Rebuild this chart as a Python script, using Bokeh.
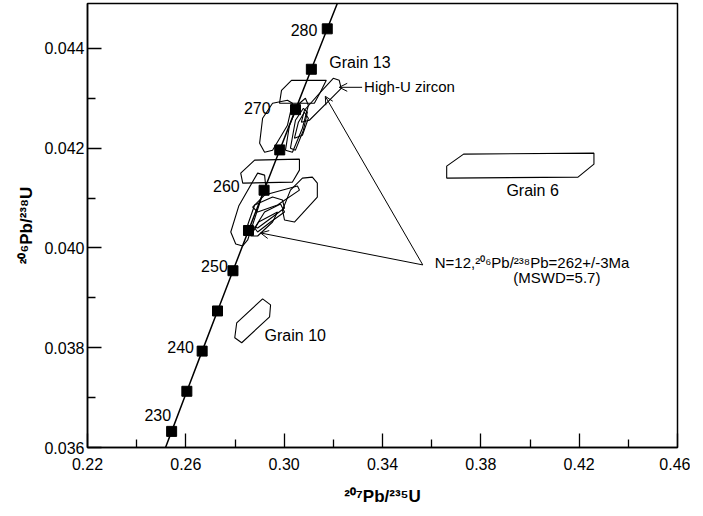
from bokeh.plotting import figure
from bokeh.models import Range1d, Label, Arrow, OpenHead, FixedTicker, PrintfTickFormatter
from bokeh.embed import file_html
from bokeh.resources import INLINE

# Concordia (age in Ma, 207Pb/235U, 206Pb/238U)
curve_age = [225, 230, 235, 240, 245, 250, 255, 260, 265, 270, 275, 280, 285]
curve_x = [0.248061, 0.254223, 0.260414, 0.266635, 0.272887, 0.279171, 0.285486,
           0.291831, 0.298209, 0.304618, 0.311058, 0.317531, 0.324031]
curve_y = [0.035519, 0.036323, 0.037127, 0.037932, 0.038737, 0.039543, 0.040350,
           0.041157, 0.041965, 0.042773, 0.043582, 0.044392, 0.045202]
marker_x = curve_x[1:12]
marker_y = curve_y[1:12]
label_ages = ["230", "240", "250", "260", "270", "280"]

# Error polygons of analysed grains
grain_xs = [
    [0.29811, 0.29892, 0.30297, 0.31713, 0.31471, 0.31228],
    [0.30702, 0.30823, 0.31471, 0.31997, 0.32240, 0.32320, 0.31754, 0.31025],
    [0.29002, 0.29123, 0.29528, 0.30135, 0.30337, 0.30135, 0.29528, 0.29204],
    [0.30054, 0.30216, 0.30580, 0.30864, 0.30985, 0.30742, 0.30337],
    [0.30256, 0.30459, 0.30783, 0.30944, 0.30783, 0.30459],
    [0.30418, 0.30580, 0.30823, 0.30985, 0.30742],
    [0.28233, 0.28799, 0.30621, 0.30621, 0.30337, 0.28314],
    [0.27828, 0.28152, 0.28921, 0.29204, 0.29245, 0.28516, 0.28314, 0.28030],
    [0.29933, 0.30256, 0.30742, 0.31147, 0.31349, 0.31349, 0.30418, 0.30014],
    [0.28718, 0.29204, 0.30540, 0.30621, 0.29730, 0.28921],
    [0.28516, 0.28799, 0.29528, 0.29933, 0.30014, 0.29528, 0.28921],
    [0.28799, 0.29204, 0.29852, 0.30014, 0.29447, 0.28921],
    [0.28638, 0.28961, 0.29730, 0.29528, 0.28921],
    [0.36611, 0.37299, 0.42601, 0.42601, 0.41953, 0.36611],
    [0.2799, 0.2807, 0.29123, 0.29447, 0.29407, 0.28273],
]
grain_ys = [
    [0.04290, 0.04316, 0.04336, 0.04336, 0.04312, 0.04290],
    [0.04252, 0.04276, 0.04312, 0.04340, 0.04336, 0.04320, 0.04292, 0.04256],
    [0.04210, 0.04260, 0.04290, 0.04296, 0.04290, 0.04246, 0.04196, 0.04192],
    [0.04196, 0.04246, 0.04288, 0.04300, 0.04286, 0.04240, 0.04192],
    [0.04200, 0.04256, 0.04280, 0.04272, 0.04236, 0.04196],
    [0.04220, 0.04252, 0.04272, 0.04260, 0.04226],
    [0.04150, 0.04176, 0.04178, 0.04156, 0.04132, 0.04130],
    [0.04032, 0.04084, 0.04150, 0.04146, 0.04126, 0.04016, 0.04004, 0.04008],
    [0.04076, 0.04116, 0.04140, 0.04142, 0.04130, 0.04102, 0.04052, 0.04056],
    [0.04082, 0.04106, 0.04124, 0.04116, 0.04086, 0.04072],
    [0.04046, 0.04086, 0.04102, 0.04096, 0.04080, 0.04062, 0.04040],
    [0.04040, 0.04072, 0.04088, 0.04072, 0.04052, 0.04032],
    [0.04024, 0.04052, 0.04072, 0.04052, 0.04024],
    [0.04164, 0.04188, 0.04190, 0.04168, 0.04142, 0.04140],
    [0.0382, 0.0385, 0.03898, 0.03886, 0.03862, 0.0381],
]

x_major = [0.22, 0.26, 0.30, 0.34, 0.38, 0.42, 0.46]
x_minor = [0.24, 0.28, 0.32, 0.36, 0.40, 0.44]
y_major = [0.036, 0.038, 0.040, 0.042, 0.044]
y_minor = [0.037, 0.039, 0.041, 0.043]

FONT = "Liberation Sans"

p = figure(width=690, height=508, output_backend="svg", toolbar_location=None,
           x_range=Range1d(0.22, 0.46), y_range=Range1d(0.036, 0.0449),
           min_border_left=87, min_border_right=13, min_border_top=3, min_border_bottom=60)
p.background_fill_color = "white"
p.border_fill_color = "white"
p.grid.visible = False
p.outline_line_color = "black"
p.outline_line_width = 1.5

p.xaxis.ticker = FixedTicker(ticks=x_major, minor_ticks=x_minor)
p.yaxis.ticker = FixedTicker(ticks=y_major, minor_ticks=y_minor)
p.xaxis.formatter = PrintfTickFormatter(format="%.2f")
p.yaxis.formatter = PrintfTickFormatter(format="%.3f")
for ax in (p.xaxis, p.yaxis):
    ax.axis_line_color = "black"
    ax.axis_line_width = 1.5
    ax.major_tick_in = 14
    ax.major_tick_out = 0
    ax.minor_tick_in = 8
    ax.minor_tick_out = 0
    ax.major_tick_line_color = "black"
    ax.minor_tick_line_color = "black"
    ax.major_tick_line_width = 1.3
    ax.minor_tick_line_width = 1.3
    ax.major_label_text_font = FONT
    ax.major_label_text_font_size = "16px"
    ax.major_label_text_color = "black"
    ax.axis_label_text_font = FONT
    ax.axis_label_text_font_size = "17px"
    ax.axis_label_text_font_style = "bold"
    ax.axis_label_text_color = "black"
p.xaxis.major_label_standoff = 10
p.yaxis.major_label_standoff = 3
p.xaxis.axis_label = "²⁰⁷Pb/²³⁵U"
p.yaxis.axis_label = "²⁰⁶Pb/²³⁸U"
p.xaxis.axis_label_standoff = 14
p.yaxis.axis_label_standoff = 5

# grains
p.patches(grain_xs, grain_ys, fill_color=None, line_color="black", line_width=1.1)

# concordia
p.line(curve_x, curve_y, line_color="black", line_width=1.5)
p.scatter(marker_x, marker_y, marker="square", size=10, fill_color="black", line_color="black")

# age labels
age_pos = [(0.25400, 0.03666), (0.26331, 0.03802), (0.27707, 0.03964),
           (0.28192, 0.04124), (0.29447, 0.04281), (0.31349, 0.04436)]
for txt, (ax_, ay_) in zip(label_ages, age_pos):
    p.add_layout(Label(x=ax_, y=ay_, text=txt, text_align="right", text_baseline="middle",
                       text_font=FONT, text_font_size="16px", text_color="black"))

def add_text(x, y, t, size="15px", align="left"):
    p.add_layout(Label(x=x, y=y, text=t, text_align=align, text_baseline="middle",
                       text_font=FONT, text_font_size=size, text_color="black"))

add_text(0.31835, 0.04372, "Grain 13", size="16px")
add_text(0.33251, 0.04324, "High-U zircon")
add_text(0.39039, 0.04116, "Grain 6", size="16px")
add_text(0.29204, 0.03824, "Grain 10", size="16px")
add_text(0.36125, 0.0397, "N=12,²⁰⁶Pb/²³⁸Pb=262+/-3Ma")
add_text(0.39322, 0.0394, "(MSWD=5.7)")

# arrows
def arrow(x0, y0, x1, y1):
    p.add_layout(Arrow(end=OpenHead(size=8, line_width=1, line_color="black"),
                       x_start=x0, y_start=y0, x_end=x1, y_end=y1,
                       line_color="black", line_width=1))

arrow(0.33170, 0.04322, 0.32240, 0.04322)
arrow(0.35639, 0.03966, 0.31673, 0.04304)
arrow(0.35639, 0.03966, 0.29042, 0.04030)

open("out.html", "w").write(file_html(p, INLINE))
